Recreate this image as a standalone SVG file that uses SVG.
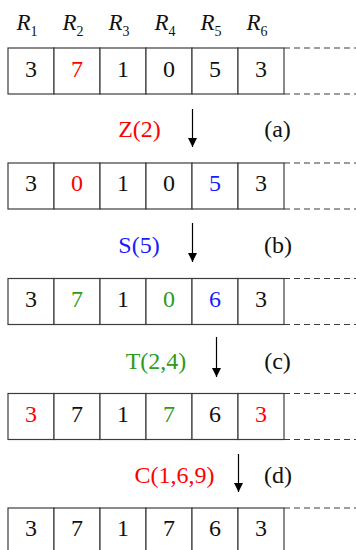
<svg xmlns="http://www.w3.org/2000/svg" width="356" height="550" viewBox="0 0 356 550">
<defs>
<style>
.cell{fill:#fff;stroke:#3c3c3c;stroke-width:1.2}
.dash{stroke:#3c3c3c;stroke-width:1.2;stroke-dasharray:6 4;fill:none}
text{font-family:'Liberation Serif','Times New Roman','DejaVu Serif',serif}
.num{font-size:24px;text-anchor:middle;fill:#111}
.lbl{font-size:24px;text-anchor:middle}
.reg{font-size:23px;font-style:italic;fill:#111}
.sub{font-size:14px;font-style:normal;fill:#111}
.r{fill:#ff0000}.b{fill:#1a1aff}.g{fill:#2e9a1e}
.arr{stroke:#000;stroke-width:1.2;fill:none}
</style>
<marker id="ah" markerWidth="9" markerHeight="9" refX="9" refY="4.5" orient="auto" markerUnits="userSpaceOnUse" viewBox="0 0 9 9">
<path d="M0,0 L9,4.5 L0,9 Z" fill="#000"/>
</marker>
</defs>

<g id="headers">
<text class="reg" x="16.5" y="30">R<tspan class="sub" dy="6">1</tspan></text>
<text class="reg" x="62.5" y="30">R<tspan class="sub" dy="6">2</tspan></text>
<text class="reg" x="108.5" y="30">R<tspan class="sub" dy="6">3</tspan></text>
<text class="reg" x="154.5" y="30">R<tspan class="sub" dy="6">4</tspan></text>
<text class="reg" x="200.5" y="30">R<tspan class="sub" dy="6">5</tspan></text>
<text class="reg" x="246.5" y="30">R<tspan class="sub" dy="6">6</tspan></text>
</g>

<g id="row1" transform="translate(0,48)">
<rect class="cell" x="8" y="0" width="46" height="46"/><rect class="cell" x="54" y="0" width="46" height="46"/><rect class="cell" x="100" y="0" width="46" height="46"/><rect class="cell" x="146" y="0" width="46" height="46"/><rect class="cell" x="192" y="0" width="46" height="46"/><rect class="cell" x="238" y="0" width="46" height="46"/>
<path class="dash" d="M284,0 H356 M284,46 H356"/>
<text class="num" x="31" y="29">3</text><text class="num r" x="77" y="29">7</text><text class="num" x="123" y="29">1</text><text class="num" x="169" y="29">0</text><text class="num" x="215" y="29">5</text><text class="num" x="261" y="29">3</text>
</g>

<g id="row2" transform="translate(0,163)">
<rect class="cell" x="8" y="0" width="46" height="46"/><rect class="cell" x="54" y="0" width="46" height="46"/><rect class="cell" x="100" y="0" width="46" height="46"/><rect class="cell" x="146" y="0" width="46" height="46"/><rect class="cell" x="192" y="0" width="46" height="46"/><rect class="cell" x="238" y="0" width="46" height="46"/>
<path class="dash" d="M284,0 H356 M284,46 H356"/>
<text class="num" x="31" y="28">3</text><text class="num r" x="77" y="28">0</text><text class="num" x="123" y="28">1</text><text class="num" x="169" y="28">0</text><text class="num b" x="215" y="28">5</text><text class="num" x="261" y="28">3</text>
</g>

<g id="row3" transform="translate(0,278.5)">
<rect class="cell" x="8" y="0" width="46" height="46"/><rect class="cell" x="54" y="0" width="46" height="46"/><rect class="cell" x="100" y="0" width="46" height="46"/><rect class="cell" x="146" y="0" width="46" height="46"/><rect class="cell" x="192" y="0" width="46" height="46"/><rect class="cell" x="238" y="0" width="46" height="46"/>
<path class="dash" d="M284,0 H356 M284,46 H356"/>
<text class="num" x="31" y="28">3</text><text class="num g" x="77" y="28">7</text><text class="num" x="123" y="28">1</text><text class="num g" x="169" y="28">0</text><text class="num b" x="215" y="28">6</text><text class="num" x="261" y="28">3</text>
</g>

<g id="row4" transform="translate(0,393.5)">
<rect class="cell" x="8" y="0" width="46" height="46"/><rect class="cell" x="54" y="0" width="46" height="46"/><rect class="cell" x="100" y="0" width="46" height="46"/><rect class="cell" x="146" y="0" width="46" height="46"/><rect class="cell" x="192" y="0" width="46" height="46"/><rect class="cell" x="238" y="0" width="46" height="46"/>
<path class="dash" d="M284,0 H356 M284,46 H356"/>
<text class="num r" x="31" y="28">3</text><text class="num" x="77" y="28">7</text><text class="num" x="123" y="28">1</text><text class="num g" x="169" y="28">7</text><text class="num" x="215" y="28">6</text><text class="num r" x="261" y="28">3</text>
</g>

<g id="row5" transform="translate(0,508)">
<rect class="cell" x="8" y="0" width="46" height="46"/><rect class="cell" x="54" y="0" width="46" height="46"/><rect class="cell" x="100" y="0" width="46" height="46"/><rect class="cell" x="146" y="0" width="46" height="46"/><rect class="cell" x="192" y="0" width="46" height="46"/><rect class="cell" x="238" y="0" width="46" height="46"/>
<path class="dash" d="M284,0 H356"/>
<text class="num" x="31" y="27.5">3</text><text class="num" x="77" y="27.5">7</text><text class="num" x="123" y="27.5">1</text><text class="num" x="169" y="27.5">7</text><text class="num" x="215" y="27.5">6</text><text class="num" x="261" y="27.5">3</text>
</g>

<g id="connectors">
<line class="arr" x1="192.5" y1="109" x2="192.5" y2="147" marker-end="url(#ah)"/>
<line class="arr" x1="192.5" y1="223" x2="192.5" y2="262" marker-end="url(#ah)"/>
<line class="arr" x1="216.5" y1="337" x2="216.5" y2="377" marker-end="url(#ah)"/>
<line class="arr" x1="238.5" y1="454" x2="238.5" y2="492" marker-end="url(#ah)"/>
</g>

<g id="labels">
<text class="lbl r" x="139.5" y="137">Z(2)</text>
<text class="lbl" x="277.5" y="137" fill="#111">(a)</text>
<text class="lbl b" x="139" y="253">S(5)</text>
<text class="lbl" x="278" y="253" fill="#111">(b)</text>
<text class="lbl g" x="156" y="369">T(2,4)</text>
<text class="lbl" x="277.5" y="369" fill="#111">(c)</text>
<text class="lbl r" x="174.5" y="483">C(1,6,9)</text>
<text class="lbl" x="278" y="483" fill="#111">(d)</text>
</g>
</svg>
